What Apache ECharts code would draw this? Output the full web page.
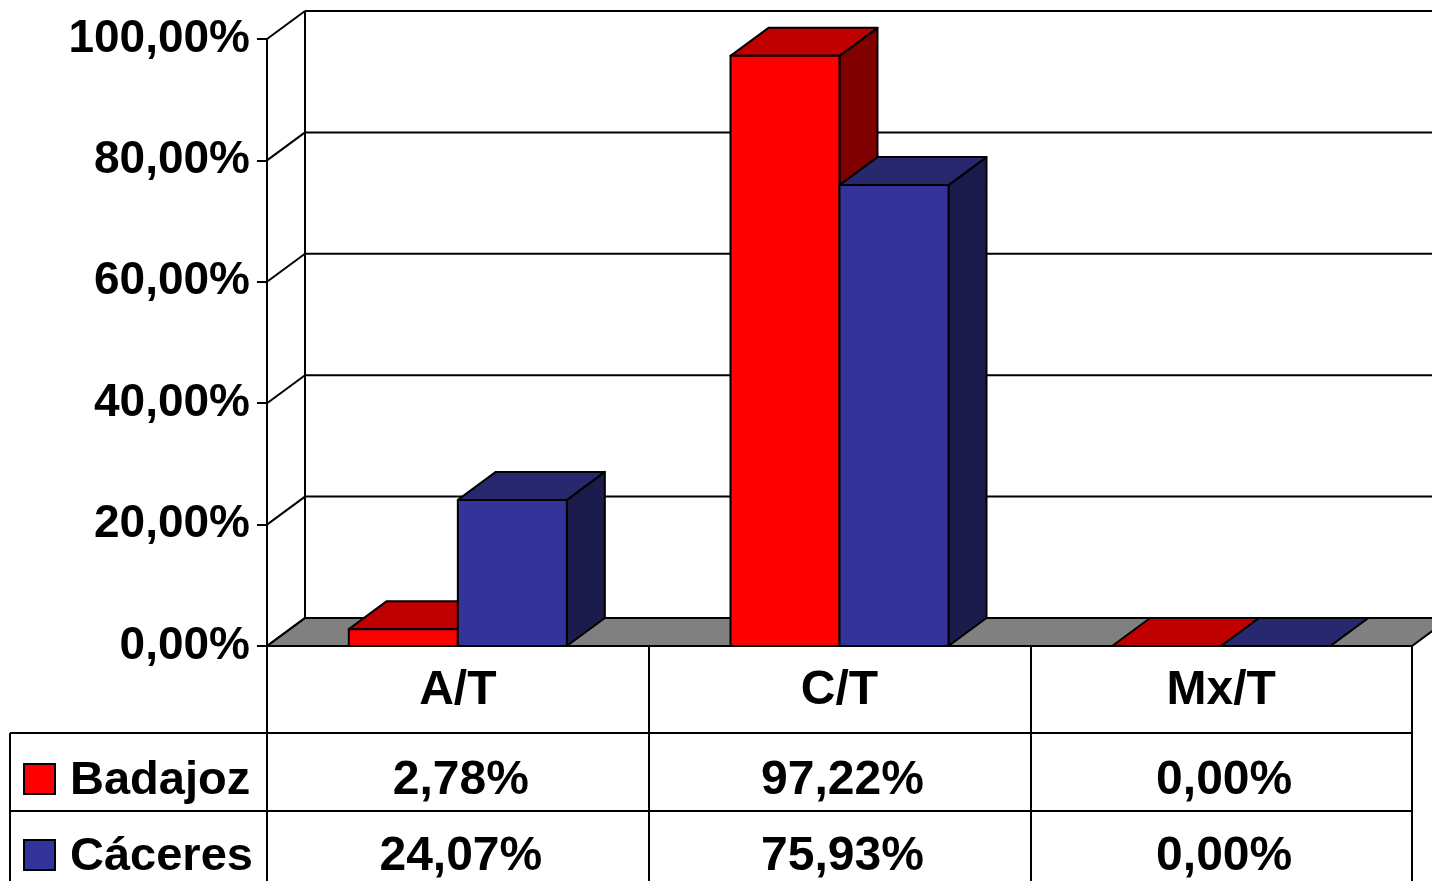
<!DOCTYPE html>
<html>
<head>
<meta charset="utf-8">
<title>Badajoz / Cáceres</title>
<script src="https://cdn.jsdelivr.net/npm/echarts@6/dist/echarts.min.js"></script>
<style>
  html, body { margin: 0; padding: 0; background: #fff; }
  #chart { width: 1432px; height: 881px; }
</style>
</head>
<body>
<div id="chart"></div>
<script>
const categories = ['A/T', 'C/T', 'Mx/T'];
const badajoz = [2.78, 97.22, 0.00];
const caceres = [24.07, 75.93, 0.00];
const yTicks = [0, 20, 40, 60, 80, 100];

const FONT = '"Liberation Sans", Arial, sans-serif';
const DX = 38, DY = -28;   // profundidad del efecto 3D
const BAR = 0.2856;        // ancho de barra respecto a la categoría

const fmt = v => v.toFixed(2).replace('.', ',') + '%';

const seriesDefs = [
  { name: 'Badajoz', data: badajoz, offset: -1, row: 135, keyY: 764,
    front: '#ff0000', top: '#c00000', side: '#800000' },
  { name: 'Cáceres', data: caceres, offset: 0, row: 211, keyY: 840,
    front: '#333399', top: '#28286f', side: '#1c1c4c' }
];

const line = { stroke: '#000', lineWidth: 2 };

// paredes, suelo y líneas de división
function wallItem(params, api) {
  const v = api.value(1);
  const cs = params.coordSys;
  const x0 = cs.x, x1 = cs.x + cs.width;
  const y = api.coord([0, v])[1];
  const children = [
    { type: 'line', shape: { x1: x0, y1: y, x2: x0 + DX, y2: y + DY }, style: line },
    { type: 'line', shape: { x1: x0 + DX, y1: y + DY, x2: x1 + DX, y2: y + DY }, style: line }
  ];
  if (v === 0) {
    const yTop = api.coord([0, yTicks[yTicks.length - 1]])[1];
    children.unshift({
      type: 'polygon',
      shape: { points: [[x0, y], [x1, y], [x1 + DX, y + DY], [x0 + DX, y + DY]] },
      style: { fill: '#808080', stroke: '#000', lineWidth: 2 }
    });
    children.push({ type: 'line', shape: { x1: x0 + DX, y1: y + DY, x2: x0 + DX, y2: yTop + DY }, style: line });
  }
  return { type: 'group', children };
}

function barItem(def) {
  return function (params, api) {
    const i = api.value(0), v = api.value(1);
    const base = api.coord([i, 0]);
    const top = api.coord([i, v]);
    const bw = api.size([1, 0])[0] * BAR;
    const x = base[0] + def.offset * bw;
    const yb = base[1], yt = top[1];
    const st = { stroke: '#000', lineWidth: 2, lineJoin: 'round' };
    return {
      type: 'group',
      children: [
        { type: 'polygon', shape: { points: [[x + bw, yb], [x + bw, yt], [x + bw + DX, yt + DY], [x + bw + DX, yb + DY]] },
          style: Object.assign({ fill: def.side }, st) },
        { type: 'polygon', shape: { points: [[x, yt], [x + bw, yt], [x + bw + DX, yt + DY], [x + DX, yt + DY]] },
          style: Object.assign({ fill: def.top }, st) },
        { type: 'rect', shape: { x: x, y: yt, width: bw, height: yb - yt },
          style: Object.assign({ fill: def.front }, st) },
        // celda de la tabla de datos
        { type: 'text', x: base[0] + 3, y: yb + def.row,
          style: { text: fmt(v), fill: '#000', font: 'bold 48px ' + FONT, align: 'center', verticalAlign: 'middle' } }
      ]
    };
  };
}

const chart = echarts.init(document.getElementById('chart'), null, { renderer: 'canvas' });

const graphic = [
  { type: 'line', shape: { x1: 10, y1: 733, x2: 1412, y2: 733 }, style: line },
  { type: 'line', shape: { x1: 10, y1: 811, x2: 1412, y2: 811 }, style: line },
  { type: 'line', shape: { x1: 10, y1: 733, x2: 10, y2: 881 }, style: line }
];
seriesDefs.forEach(d => {
  graphic.push({ type: 'rect', shape: { x: 24, y: d.keyY, width: 31, height: 30 },
    style: { fill: d.front, stroke: '#000', lineWidth: 2 } });
  graphic.push({ type: 'text', x: 70, y: d.keyY + 17,
    style: { text: d.name, fill: '#000', font: 'bold 47px ' + FONT, verticalAlign: 'middle' } });
});

chart.setOption({
  animation: false,
  backgroundColor: '#fff',
  grid: { left: 267, top: 39, width: 1145, height: 607 },
  xAxis: {
    type: 'category',
    data: categories,
    axisLine: { show: true, lineStyle: { color: '#000', width: 2 } },
    axisTick: { show: true, interval: 0, length: 240, lineStyle: { color: '#000', width: 2 } },
    axisLabel: { interval: 0, margin: 45, verticalAlign: 'middle', color: '#000',
      fontFamily: FONT, fontWeight: 'bold', fontSize: 48 }
  },
  yAxis: {
    type: 'value',
    min: 0, max: 100, interval: 20,
    axisLine: { show: true, lineStyle: { color: '#000', width: 2 } },
    axisTick: { show: true, length: 10, lineStyle: { color: '#000', width: 2 } },
    axisLabel: { margin: 17, padding: [6, 0, 0, 0], color: '#000', fontFamily: FONT,
      fontWeight: 'bold', fontSize: 46, formatter: fmt },
    splitLine: { show: false }
  },
  graphic: graphic,
  series: [
    { type: 'custom', name: 'walls', z: 1, renderItem: wallItem, encode: { x: 0, y: 1 },
      data: yTicks.map(v => [0, v]) }
  ].concat(seriesDefs.map(d => ({
    type: 'custom', name: d.name, z: 2, renderItem: barItem(d), encode: { x: 0, y: 1 },
    data: d.data.map((v, i) => [i, v])
  })))
});
</script>
</body>
</html>
